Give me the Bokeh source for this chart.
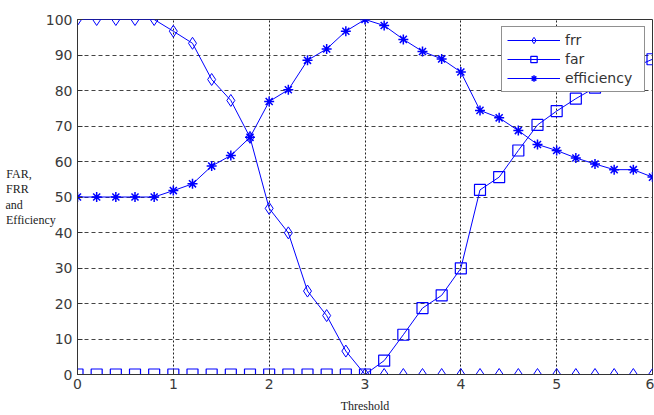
from bokeh.plotting import figure
from bokeh.models import Range1d, Legend, LegendItem, FixedTicker
from bokeh.embed import file_html
from bokeh.resources import INLINE

threshold = [0.0, 0.2, 0.4, 0.6, 0.8, 1.0, 1.2, 1.4, 1.6, 1.8, 2.0, 2.2, 2.4, 2.6, 2.8,
             3.0, 3.2, 3.4, 3.6, 3.8, 4.0, 4.2, 4.4, 4.6, 4.8, 5.0, 5.2, 5.4, 5.6, 5.8, 6.0]
frr = [100, 100, 100, 100, 100, 96.7, 93.3, 83.1, 77.2, 66.8, 46.8, 39.9, 23.5, 16.6, 6.6,
       0, 0, 0, 0, 0, 0, 0, 0, 0, 0, 0, 0, 0, 0, 0, 0]
far = [0, 0, 0, 0, 0, 0, 0, 0, 0, 0, 0, 0, 0, 0, 0,
       0, 3.9, 11.2, 18.7, 22.3, 29.9, 52.0, 55.6, 63.1, 70.3, 74.2, 77.7, 80.8, 83.8, 86.5, 88.8]
efficiency = [50, 50, 50, 50, 50, 51.8, 53.7, 58.7, 61.7, 66.8, 76.9, 80.2, 88.5, 91.7, 96.7,
              100, 98.3, 94.4, 91.0, 88.9, 85.2, 74.4, 72.3, 68.7, 64.8, 63.1, 61.0, 59.3, 57.7, 57.7, 55.6]
x_ticks = [0, 1, 2, 3, 4, 5, 6]
y_ticks = [0, 10, 20, 30, 40, 50, 60, 70, 80, 90, 100]
ylabel_lines = ["FAR,", "FRR", "and", "Efficiency"]
ylabel_pad = [8, 9, 11, 0]   # non-breaking spaces so the lines read left-justified
xlabel = "Threshold"

BLUE = "#0000ff"

p = figure(width=654, height=415, x_range=Range1d(0, 6), y_range=Range1d(0, 100),
           output_backend="svg", toolbar_location=None,
           min_border_left=77, min_border_right=2, min_border_top=19, min_border_bottom=41)
p.background_fill_color = "white"
p.border_fill_color = "white"
p.outline_line_color = "#333333"
p.outline_line_width = 1

for ax in (p.xaxis, p.yaxis):
    ax.major_tick_in = 5
    ax.major_tick_out = 0
    ax.minor_tick_line_color = None
    ax.axis_line_color = "#333333"
    ax.major_tick_line_color = "#333333"
    ax.major_label_text_font = "DejaVu Sans"
    ax.major_label_text_font_size = "14px"
    ax.major_label_text_color = "#3a3a3a"
    ax.major_label_standoff = 5
p.xaxis.ticker = FixedTicker(ticks=x_ticks)
p.yaxis.ticker = FixedTicker(ticks=y_ticks)
p.xaxis.major_label_standoff = 4
p.xaxis.axis_label = xlabel
p.xaxis.axis_label_text_font = "Liberation Serif"
p.xaxis.axis_label_text_font_style = "normal"
p.xaxis.axis_label_text_font_size = "12px"
p.xaxis.axis_label_text_color = "#222222"
p.xaxis.axis_label_standoff = 7

p.yaxis.axis_label = "\n".join(t + "\u00a0" * n for t, n in zip(ylabel_lines, ylabel_pad))
p.yaxis.axis_label_orientation = "horizontal"
p.yaxis.axis_label_text_font = "Liberation Serif"
p.yaxis.axis_label_text_font_style = "normal"
p.yaxis.axis_label_text_font_size = "12px"
p.yaxis.axis_label_text_color = "#222222"
p.yaxis.axis_label_text_line_height = 1.1
p.yaxis.axis_label_standoff = -13

p.ygrid.grid_line_color = "#444444"
p.ygrid.grid_line_dash = "4 3"
p.ygrid.grid_line_width = 1
p.xgrid.grid_line_color = "#222222"
p.xgrid.grid_line_dash = "2 2"
p.xgrid.grid_line_width = 1

l1 = p.line(threshold, frr, line_color=BLUE, line_width=1)
m1 = p.scatter(threshold, frr, marker="diamond", size=12, line_color=BLUE, fill_alpha=0, line_width=1)
l2 = p.line(threshold, far, line_color=BLUE, line_width=1)
m2 = p.scatter(threshold, far, marker="square", size=11, line_color=BLUE, fill_alpha=0, line_width=1.2)
l3 = p.line(threshold, efficiency, line_color=BLUE, line_width=1)
m3 = p.scatter(threshold, efficiency, marker="asterisk", size=10, line_color=BLUE, line_width=1.5)

legend = Legend(items=[
    LegendItem(label="frr", renderers=[l1, m1]),
    LegendItem(label="far", renderers=[l2, m2]),
    LegendItem(label="efficiency", renderers=[l3, m3]),
], location="top_right")
legend.margin = 7
legend.padding = 5
legend.spacing = 3
legend.glyph_width = 53
legend.glyph_height = 16
legend.label_height = 16
legend.label_width = 74
legend.label_standoff = 5
legend.label_text_font = "DejaVu Sans"
legend.label_text_font_size = "14px"
legend.label_text_color = "#333333"
legend.border_line_color = "#222222"
legend.border_line_width = 1
legend.background_fill_color = "white"
legend.background_fill_alpha = 1
p.add_layout(legend)

open("out.html", "w").write(file_html(p, INLINE))
